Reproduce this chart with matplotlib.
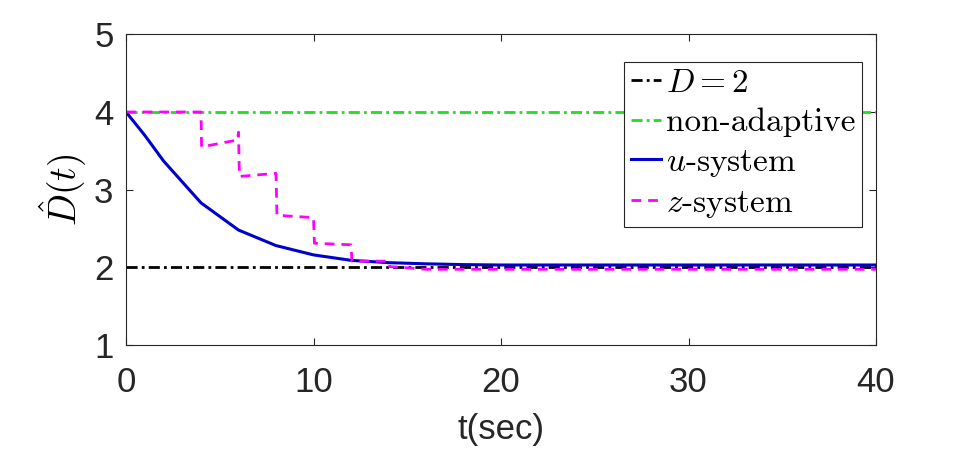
import matplotlib
matplotlib.use('Agg')
import matplotlib.pyplot as plt

# reference value and non-adaptive estimate
t_ref = [0, 40]
d_true = [2.0, 2.0]
d_nonadapt = [4.0, 4.0]

# u-system estimate (piecewise, corners every 2 s)
t_u = [0, 1, 2, 4, 6, 8, 10, 12, 14, 16, 18, 20, 40]
d_u = [4.0, 3.70, 3.37, 2.83, 2.48, 2.28, 2.16, 2.09, 2.06, 2.045, 2.035, 2.03, 2.03]

# z-system estimate (sampled updates)
t_z = [0, 4.0, 4.03, 5.95, 6.0, 6.05, 8.0, 8.05, 10.0, 10.05, 12.0, 12.05, 14.0, 14.05, 16.0, 40]
d_z = [4.0, 4.0, 3.55, 3.64, 3.74, 3.17, 3.21, 2.67, 2.64, 2.31, 2.29, 2.08, 2.08, 2.01, 1.975, 1.975]

plt.rcParams['mathtext.fontset'] = 'cm'
plt.rcParams['font.family'] = 'Liberation Sans'

fig = plt.figure(figsize=(9.68, 4.51), dpi=100)
ax = fig.add_axes([126/968, 1-345/451, 750/968, (345-34.3)/451])

ax.plot(t_ref, d_true, color='k', lw=2.0, dashes=(4, 1.5, 1, 1.5), label=r'$D=2$')
ax.plot(t_ref, d_nonadapt, color='#22dd22', lw=2.0, dashes=(4, 1.5, 1, 1.5), label='non-adaptive')
ax.plot(t_u, d_u, color='#0000cc', lw=2.2, label=r'$u$-system')
ax.plot(t_z, d_z, color='#ff00ff', lw=2.0, dashes=(3.5, 2.5), label=r'$z$-system')

ax.set_xlim(0, 40)
ax.set_ylim(1, 5)
ax.set_xticks([0, 10, 20, 30, 40])
ax.set_yticks([1, 2, 3, 4, 5])
ax.tick_params(axis='both', direction='in', top=True, right=True, length=5, width=0.8,
               labelsize=25, colors='#262626')
ax.tick_params(axis='x', pad=15)
ax.tick_params(axis='y', pad=9)
for s in ax.spines.values():
    s.set_linewidth(0.8)
    s.set_color('#262626')

ax.set_xlabel('t(sec)', fontsize=25, color='#262626', labelpad=10)
ax.set_ylabel(r'$\hat{D}(t)$', fontsize=27)
ax.yaxis.set_label_coords(-0.049, 0.5)

leg = ax.legend(loc='upper right', bbox_to_anchor=(0.9817, 0.912), borderaxespad=0,
                prop={'family': 'cmr10', 'size': 24}, handlelength=0.9, handletextpad=0.15,
                labelspacing=0.3, borderpad=0.2, fancybox=False, framealpha=1)
leg.get_frame().set_edgecolor('#262626')
leg.get_frame().set_linewidth(0.8)

fig.savefig('out.png', dpi=100)
